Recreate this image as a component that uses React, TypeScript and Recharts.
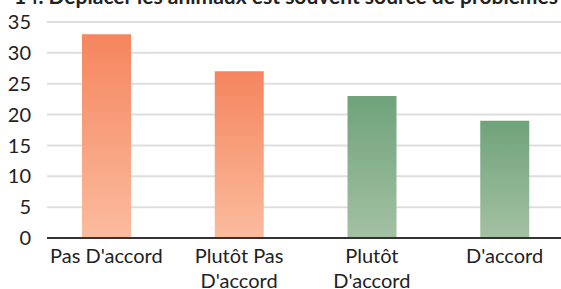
import React from 'react';
import { BarChart, Bar, XAxis, YAxis, CartesianGrid, Cell } from 'recharts';

const categories = ["Pas D'accord", "Plutôt Pas D'accord", "Plutôt D'accord", "D'accord"];
const tickLines = [["Pas D'accord"], ['Plutôt Pas', "D'accord"], ['Plutôt', "D'accord"], ["D'accord"]];
const values = [33, 27, 23, 19];
const yTicks = [0, 5, 10, 15, 20, 25, 30, 35];
const barColors = ['url(#gradOrange)', 'url(#gradOrange)', 'url(#gradGreen)', 'url(#gradGreen)'];
const title = '14. Déplacer les animaux est souvent source de problèmes';

const data = categories.map((name, i) => ({ name, value: values[i] }));

const FONT = 'Lato, "Open Sans", sans-serif';

// multi-line category labels, first baseline ~17px under the tick anchor
function CategoryTick({ x, y, index }: { x?: number; y?: number; index?: number }) {
  const lines = tickLines[index ?? 0] || [];
  return (
    <text x={x} y={y} textAnchor="middle" fill="#222" fontSize={20} fontFamily={FONT}>
      {lines.map((l, i) => (
        <tspan key={i} x={x} dy={i === 0 ? 17 : 25}>
          {l}
        </tspan>
      ))}
    </text>
  );
}

export default function App() {
  return (
    <div style={{ position: 'absolute', left: 0, top: 0, width: 561, height: 289, overflow: 'hidden', background: '#fff' }}>
      <div
        style={{
          position: 'absolute',
          left: 0,
          top: -14,
          width: 572,
          textAlign: 'center',
          fontFamily: FONT,
          fontWeight: 700,
          fontSize: 21,
          whiteSpace: 'nowrap',
          color: '#222',
          lineHeight: '20px',
        }}
      >
        {title}
      </div>
      <BarChart width={561} height={289} data={data} margin={{ top: 22, right: 0, bottom: 0, left: 0 }}>
        <defs>
          <linearGradient id="gradOrange" x1="0" y1="0" x2="0" y2="1">
            <stop offset="0%" stopColor="#F5855E" />
            <stop offset="100%" stopColor="#FBBC9E" />
          </linearGradient>
          <linearGradient id="gradGreen" x1="0" y1="0" x2="0" y2="1">
            <stop offset="0%" stopColor="#6FA37A" />
            <stop offset="100%" stopColor="#A4C1A3" />
          </linearGradient>
        </defs>
        <CartesianGrid vertical={false} stroke="#DEDEDE" strokeWidth={2} />
        <XAxis
          dataKey="name"
          interval={0}
          height={51}
          padding={{ left: -7, right: -10 }}
          tickLine={false}
          axisLine={{ stroke: '#333', strokeWidth: 2 }}
          tick={<CategoryTick />}
        />
        <YAxis
          width={47}
          domain={[0, 35]}
          ticks={yTicks}
          tickLine={false}
          axisLine={false}
          tickSize={6}
          tickMargin={10}
          tick={{ fill: '#222', fontSize: 20, fontFamily: FONT }}
        />
        <Bar dataKey="value" barSize={49} isAnimationActive={false}>
          {data.map((d, i) => (
            <Cell key={d.name} fill={barColors[i]} />
          ))}
        </Bar>
      </BarChart>
    </div>
  );
}
